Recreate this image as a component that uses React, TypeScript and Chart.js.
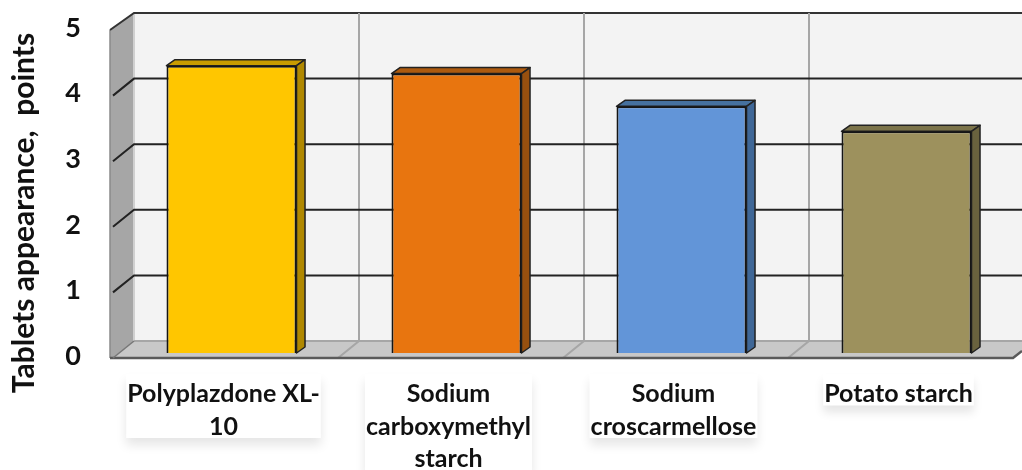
import React, { useEffect, useRef } from "react";
import { Chart, registerables } from "chart.js";

Chart.register(...registerables);

const categories: (string | string[])[] = [
  ["Polyplazdone XL-", "10"],
  ["Sodium", "carboxymethyl", "starch"],
  ["Sodium", "croscarmellose"],
  ["Potato starch"],
];
const values = [4.38, 4.26, 3.76, 3.38];
const yTitle = "Tablets appearance,  points";
const faceColors = ["#FFC600", "#E8750F", "#6295D8", "#9D915D"];
const topColors = ["#C99C00", "#AD5A0E", "#46719F", "#7B7349"];
const sideColors = ["#B08800", "#97500F", "#3F6797", "#69623E"];
const xFont = { family: "Lato", size: 25, weight: "bold", lineHeight: "32.5px" };
const xPad = 17;
const xLabelShift = -8;

const poly = (ctx: CanvasRenderingContext2D, pts: number[][], fill: string, stroke?: string, lw = 2) => {
  ctx.beginPath();
  pts.forEach(([x, y], i) => (i ? ctx.lineTo(x, y) : ctx.moveTo(x, y)));
  ctx.closePath();
  ctx.fillStyle = fill;
  ctx.fill();
  if (stroke) {
    ctx.strokeStyle = stroke;
    ctx.lineWidth = lw;
    ctx.lineJoin = "round";
    ctx.stroke();
  }
};
const seg = (ctx: CanvasRenderingContext2D, pts: number[][], stroke: string, lw: number) => {
  ctx.beginPath();
  pts.forEach(([x, y], i) => (i ? ctx.lineTo(x, y) : ctx.moveTo(x, y)));
  ctx.strokeStyle = stroke;
  ctx.lineWidth = lw;
  ctx.stroke();
};

const room3d = {
  id: "room3d",
  beforeDraw(chart: any) {
    const { ctx, scales } = chart;
    const y = scales.y;
    const x = scales.x;
    // the axis title sits lower than the centre of the axis
    if (!y.__shifted) {
      y.__shifted = true;
      const orig = y.drawTitle.bind(y);
      y.drawTitle = () => {
        ctx.save();
        ctx.translate(0, 24);
        orig();
        ctx.restore();
      };
    }
    // white label boxes with a soft shadow
    ctx.save();
    ctx.font = `${xFont.weight} ${xFont.size}px ${xFont.family}`;
    ctx.shadowColor = "rgba(0,0,0,0.10)";
    ctx.shadowBlur = 10;
    ctx.shadowOffsetY = 7;
    ctx.fillStyle = "#fff";
    categories.forEach((c, i) => {
      const lines = Array.isArray(c) ? c : [c];
      const w = Math.max(...lines.map((l) => ctx.measureText(l).width)) + 2;
      const cx = x.getPixelForValue(i) + xLabelShift;
      ctx.fillRect(cx - w / 2, x.top + xPad + 4, w, lines.length * 32.5 - 1);
    });
    ctx.restore();
  },
  beforeDatasetsDraw(chart: any) {
    const { ctx, scales, width } = chart;
    const x = scales.x;
    const y = scales.y;
    const band = x.getPixelForValue(1) - x.getPixelForValue(0);
    const backX = (i: number) => x.getPixelForValue(0) - band / 2 + 15 + i * band;
    const frontX = (i: number) => backX(i) - 21;
    const backY = (v: number) => y.getPixelForValue(v) - 12;
    const frontY = (v: number) => y.getPixelForValue(v) + 5;
    ctx.save();
    // back wall
    ctx.fillStyle = "#F3F3F3";
    ctx.fillRect(backX(0), backY(5), width - backX(0), backY(0) - backY(5));
    // left wall
    poly(ctx, [[frontX(0) - 3, frontY(5)], [backX(0), backY(5)], [backX(0), backY(0)], [frontX(0), frontY(0)], [frontX(0) - 3, frontY(0)]], "#A6A6A6");
    seg(ctx, [[frontX(0) - 3, frontY(5)], [frontX(0) - 3, frontY(0)]], "#8A8A8A", 1.5);
    seg(ctx, [[backX(0), backY(5)], [backX(0), backY(0)]], "#D0D0D0", 2);
    seg(ctx, [[frontX(0) - 3, frontY(5)], [backX(0), backY(5)], [width, backY(5)]], "#333", 2);
    // floor
    poly(ctx, [[backX(0), backY(0)], [width, backY(0)], [width, frontY(0) - 7], [frontX(4), frontY(0)], [frontX(0), frontY(0)]], "#C8C8C8");
    seg(ctx, [[backX(0), backY(0)], [width, backY(0)]], "#A6A6A6", 2);
    // vertical gridlines
    for (let i = 1; i < 4; i++) {
      seg(ctx, [[backX(i), backY(5)], [backX(i), backY(0)], [frontX(i), frontY(0)]], "#A6A6A6", 2);
    }
    // value gridlines
    y.ticks.forEach((t: any) => {
      if (t.value === 0 || t.value === 5) return;
      const by = backY(t.value);
      seg(ctx, [[frontX(0), frontY(t.value)], [backX(0), by], [width, by]], "#222", 2);
    });
    // floor front edge
    seg(ctx, [[frontX(0) - 3, frontY(0)], [frontX(4), frontY(0)], [width, frontY(0) - 7]], "#5A5A5A", 2.5);
    seg(ctx, [[frontX(0), frontY(0)], [backX(0), backY(0)]], "#777", 1.5);
    // depth faces of the bars
    const dx = 8.5;
    const dy = 6;
    chart.getDatasetMeta(0).data.forEach((b: any, i: number) => {
      const l = b.x - b.width / 2;
      const r = b.x + b.width / 2;
      poly(ctx, [[l, b.y], [l + dx, b.y - dy], [r + dx, b.y - dy], [r, b.y]], topColors[i], "#222", 1.5);
      poly(ctx, [[r, b.y], [r + dx, b.y - dy], [r + dx, b.base - dy], [r, b.base]], sideColors[i], "#222", 1.5);
    });
    ctx.restore();
  },
};

export default function App() {
  const ref = useRef<HTMLCanvasElement>(null);
  useEffect(() => {
    document.body.style.margin = "0";
    const chart = new Chart(ref.current!, {
      type: "bar",
      data: {
        labels: categories as any,
        datasets: [
          {
            data: values,
            backgroundColor: faceColors,
            borderColor: "#151515",
            borderWidth: 2,
            barPercentage: 0.578,
            categoryPercentage: 1,
          },
        ],
      },
      plugins: [room3d as any],
      options: {
        responsive: false,
        animation: false,
        layout: { autoPadding: false, padding: { left: 0, right: 3, top: 25, bottom: 0 } },
        plugins: { legend: { display: false }, tooltip: { enabled: false } },
        scales: {
          x: {
            grid: { display: false },
            border: { display: false },
            afterFit: (s: any) => {
              s.height = 117;
            },
            ticks: {
              color: "#111",
              font: xFont as any,
              maxRotation: 0,
              autoSkip: false,
              padding: xPad,
              labelOffset: xLabelShift,
            },
          },
          y: {
            min: 0,
            max: 5,
            grid: { display: false },
            border: { display: false },
            afterFit: (s: any) => {
              s.width = 119;
              s.paddingTop = 0;
              s.paddingBottom = 0;
            },
            title: {
              display: true,
              text: yTitle,
              color: "#111",
              font: { family: "Lato", size: 30, weight: "bold" },
              padding: { top: 6, bottom: 0 },
            },
            ticks: {
              stepSize: 1,
              color: "#111",
              font: { family: "Lato", size: 27, weight: "bold" },
              padding: 30,
              labelOffset: 3,
            },
          },
        },
      },
    } as any);
    return () => chart.destroy();
  }, []);
  return (
    <div style={{ width: 1022, height: 470, overflow: "hidden" }}>
      <canvas ref={ref} width={1022} height={470} style={{ display: "block" }} />
    </div>
  );
}
